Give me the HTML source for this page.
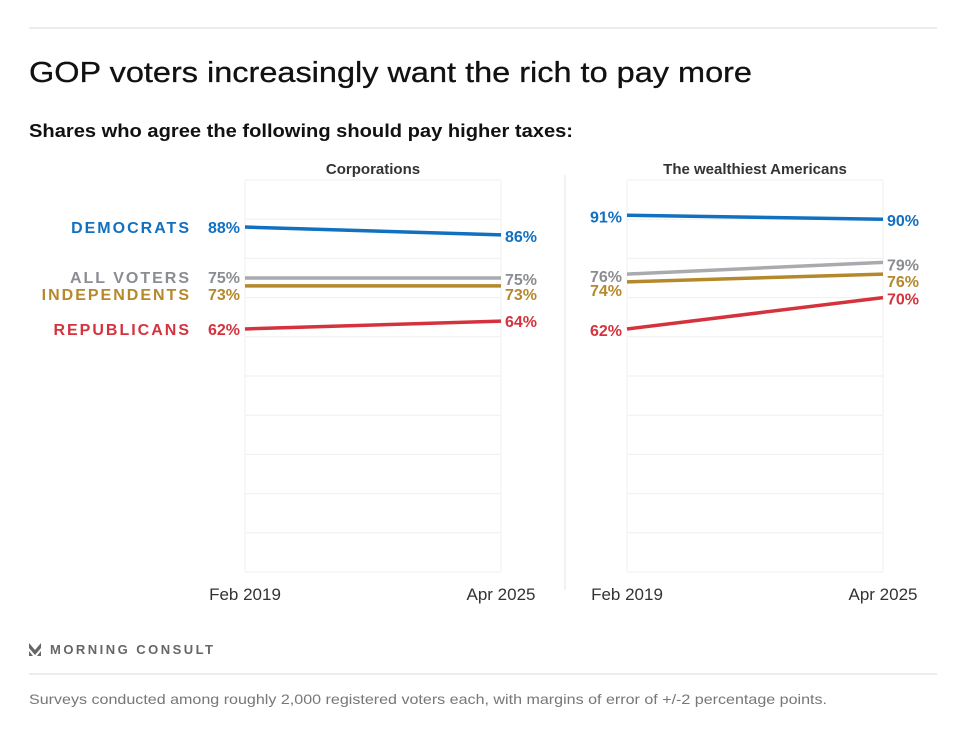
<!DOCTYPE html>
<html><head><meta charset="utf-8"><style>
body{margin:0;background:#fff;font-family:"Liberation Sans",sans-serif;}
svg{display:block}
</style></head><body>
<svg width="979" height="730" viewBox="0 0 979 730">
<line x1="29" y1="28" x2="937" y2="28" stroke="#d8d8d8"/>
<text x="29" y="82" font-size="29" fill="#111" textLength="723" lengthAdjust="spacingAndGlyphs" stroke="#111" stroke-width="0.3">GOP voters increasingly want the rich to pay more</text>
<text x="29" y="137" font-size="18" font-weight="bold" fill="#111" textLength="544" lengthAdjust="spacingAndGlyphs">Shares who agree the following should pay higher taxes:</text>
<line x1="565" y1="175" x2="565" y2="590" stroke="#e4e4e4"/>
<g id="panels"></g>
<g>
<path d="M29 643 L35 650 L41 643 L41 648 L35 655 L29 648 Z M29 651 L33 656 L29 656 Z M41 651 L37 656 L41 656 Z" fill="#666"/>
<text x="50" y="654" font-size="13" font-weight="bold" fill="#666" letter-spacing="2" textLength="165">MORNING CONSULT</text>
</g>
<line x1="29" y1="674" x2="937" y2="674" stroke="#d8d8d8"/>
<text x="29" y="704" font-size="14" fill="#777" textLength="798" lengthAdjust="spacingAndGlyphs">Surveys conducted among roughly 2,000 registered voters each, with margins of error of +/-2 percentage points.</text>
</svg>
<script>
const categories = ["Feb 2019", "Apr 2025"];
const groups = ["DEMOCRATS", "ALL VOTERS", "INDEPENDENTS", "REPUBLICANS"];
const colors = ["#1170c0", "#8a8d91", "#b5882b", "#d4333d"];
const lineColors = ["#1170c0", "#a8aaad", "#b5882b", "#d4333d"];
const panelTitles = ["Corporations", "The wealthiest Americans"];
const corpValues = [[88, 86], [75, 75], [73, 73], [62, 64]];
const wealthValues = [[91, 90], [76, 79], [74, 76], [62, 70]];
const panelValues = [corpValues, wealthValues];
const ns = "http://www.w3.org/2000/svg";
const gRoot = document.getElementById("panels");
const panelX = [245, 627], plotW = 256, plotTop = 180, plotBottom = 572;
function yScale(v){ return plotBottom - v / 100 * (plotBottom - plotTop); }
function mk(tag, attrs, parent){ const e = document.createElementNS(ns, tag); for (const k in attrs) e.setAttribute(k, attrs[k]); parent.appendChild(e); return e; }
const nudgeL = [[6, 5, 14, 6], [7, 8, 14, 7]];
const nudgeR = [[7, 7, 14, 6], [7, 8, 13, 7]];
panelValues.forEach((vals, p) => {
  const x0 = panelX[p], x1 = x0 + plotW;
  const pg = mk("g", {}, gRoot);
  
  
  for (let i = 0; i <= 10; i++) {
    const gl = mk("line", {x1: x0, x2: x1, y1: yScale(i * 10), y2: yScale(i * 10), stroke: "#efefef"}, pg);
    
    
  }
  [x0, x1].forEach(x => {
    const vl = mk("line", {x1: x, x2: x, y1: plotTop, y2: plotBottom, stroke: "#efefef"}, pg);
    
    
  });
  const t = mk("text", {x: x0 + plotW / 2, y: 174, "text-anchor": "middle", "font-size": 15, "font-weight": "bold", fill: "#333"}, pg);
  t.textContent = panelTitles[p];
  
  
  categories.forEach((c, i) => {
    const tx = mk("text", {x: i === 0 ? x0 : x1, y: 600, "text-anchor": "middle", "font-size": 17, fill: "#333"}, pg);
    tx.textContent = c;
    
    
  });
  vals.forEach((v, k) => {
    const ln = mk("line", {x1: x0, x2: x1, y1: yScale(v[0]), y2: yScale(v[1]), stroke: lineColors[k], "stroke-width": 3.5}, pg);
    
    
    const l = mk("text", {x: x0 - 5, y: yScale(v[0]) + nudgeL[p][k], "text-anchor": "end", "font-size": 16, "font-weight": "bold", fill: colors[k]}, pg);
    l.textContent = v[0] + "%";
    
    
    const r = mk("text", {x: x1 + 4, y: yScale(v[1]) + nudgeR[p][k], "font-size": 16, "font-weight": "bold", fill: colors[k]}, pg);
    r.textContent = v[1] + "%";
    
    
    if (p === 0) {
      const n = mk("text", {x: 191, y: yScale(v[0]) + nudgeL[p][k], "text-anchor": "end", "font-size": 16, "font-weight": "bold", fill: colors[k], "letter-spacing": "2"}, pg);
      n.textContent = groups[k];
      
      
    }
  });
});
</script>
</body></html>
